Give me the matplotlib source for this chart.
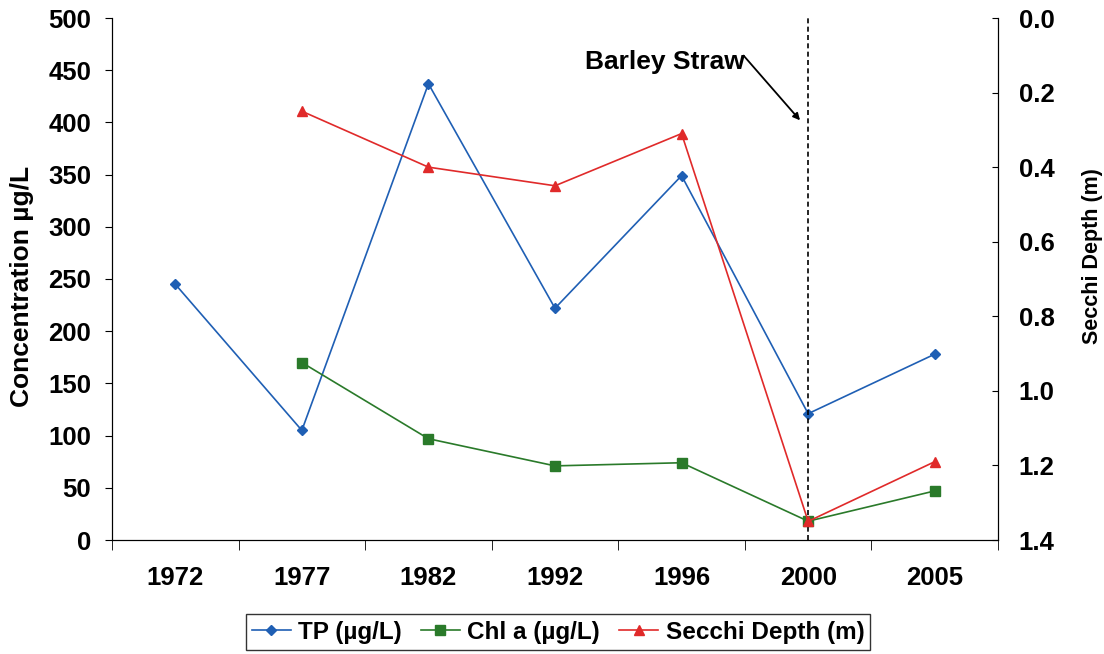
import matplotlib
matplotlib.use("Agg")
import matplotlib.pyplot as plt
import numpy as np

years = ["1972", "1977", "1982", "1992", "1996", "2000", "2005"]
tp = [245, 105, 437, 222, 349, 121, 178]
chl = [np.nan, 170, 97, 71, 74, 18, 47]
secchi = [np.nan, 0.25, 0.40, 0.45, 0.31, 1.35, 1.19]

plt.rcParams['font.family'] = ['Liberation Sans', 'DejaVu Sans']
plt.rcParams['font.weight'] = 'bold'

fig = plt.figure(figsize=(11.04, 6.54), dpi=100)
ax = fig.add_axes([112/1104, 1-540/654, (998-112)/1104, (540-18)/654])
ax2 = ax.twinx()

x = np.arange(len(years))
l1, = ax.plot(x, tp, color='#1f5fb4', marker='D', markersize=5.5, lw=1.2, label='TP (µg/L)')
l2, = ax.plot(x, chl, color='#2a7a2a', marker='s', markersize=6.5, lw=1.2, label='Chl a (µg/L)')
l3, = ax2.plot(x, secchi, color='#e02a2a', marker='^', markersize=6.5, lw=1.2, label='Secchi Depth (m)')

ax.set_xlim(-0.5, len(years) - 0.5)
ax.set_ylim(0, 500)
ax.set_yticks(np.arange(0, 501, 50))
ax2.set_ylim(1.4, 0.0)
ax2.set_yticks(np.arange(0, 1.41, 0.2))
ax2.set_yticklabels([f"{v:.1f}" for v in np.arange(0, 1.41, 0.2)])

ax.set_xticks(x)
ax.set_xticklabels(years)
ax.set_xticks(np.arange(-0.5, len(years), 1), minor=True)
ax.tick_params(axis='x', which='major', length=0, pad=19, labelsize=18.5)
ax.tick_params(axis='x', which='minor', length=7, direction='out')
ax.tick_params(axis='y', labelsize=18.5, length=5, direction='out', pad=10)
ax2.tick_params(axis='y', labelsize=18.5, length=4, direction='in', pad=15)

for a in (ax, ax2):
    a.spines['top'].set_visible(False)

ax.set_ylabel('Concentration µg/L', fontsize=19, fontweight='bold')
ax.yaxis.set_label_coords((34-112)/886, (540-286)/522)
ax2.set_ylabel('Secchi Depth (m)', fontsize=15.5, fontweight='bold')
ax2.yaxis.set_label_coords((1082-112)/886, (540-256)/522)

ax.axvline(5, color='black', lw=1.2, ls=(0, (3, 2)))
ax.text(4.5, 458, 'Barley Straw', fontsize=19, fontweight='bold', ha='right', va='center')
ax.annotate('', xy=(4.936, 402), xytext=(4.49, 464),
            arrowprops=dict(arrowstyle='-|>', color='black', lw=1.3, shrinkA=0, shrinkB=0))

leg = fig.legend(handles=[l1, l2, l3], loc='center', bbox_to_anchor=(558/1104, 1-632/654),
                 ncol=3, frameon=True, fontsize=17.5, handlelength=1.6, handletextpad=0.3,
                 columnspacing=0.8, borderpad=0.25, fancybox=False, edgecolor='black')
leg.get_frame().set_linewidth(1.0)

fig.savefig('out.png', dpi=100)
